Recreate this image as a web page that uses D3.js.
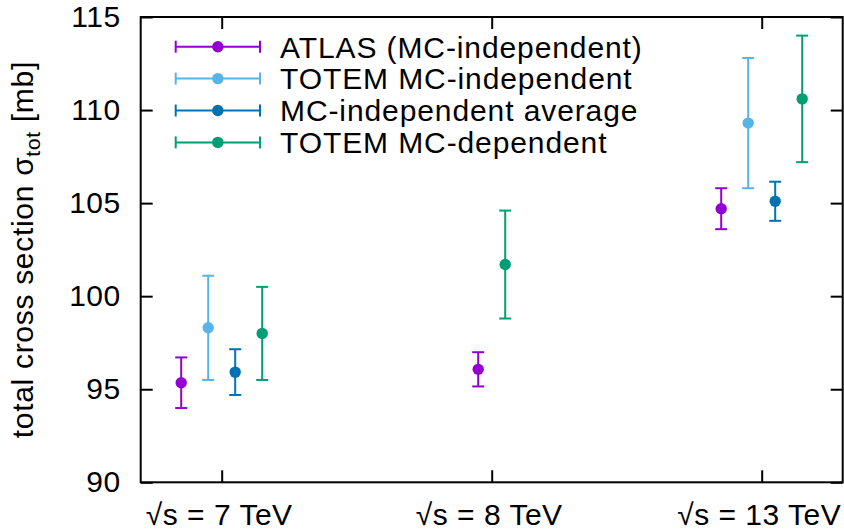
<!DOCTYPE html>
<html lang="en">
<head>
<meta charset="UTF-8">
<title>Total cross section</title>
<script src="https://d3js.org/d3.v7.min.js"></script>
<style>
    body { margin: 0; background: #fff; }
    text { font-family: "Liberation Sans", Arial, Helvetica, sans-serif; }
</style>
</head>
<body>
<div id="chart"></div>
<script>

// x categories (collision energy)
const energies = ["√s = 7 TeV", "√s = 8 TeV", "√s = 13 TeV"];

// y axis ticks
const yTicks = [90, 95, 100, 105, 110, 115];

// series, null where a measurement is absent
const seriesNames = ["ATLAS (MC-independent)", "TOTEM MC-independent", "MC-independent average", "TOTEM MC-dependent"];
const seriesColors = ["#9400d3", "#56b4e9", "#0072b2", "#009e73"];

const atlasVal = [95.35, 96.07, 104.7];
const atlasErr = [1.36, 0.92, 1.1];
const totemIndepVal = [98.3, null, 109.3];
const totemIndepErr = [2.8, null, 3.5];
const averageVal = [95.92, null, 105.1];
const averageErr = [1.23, null, 1.05];
const totemDepVal = [98.0, 101.7, 110.6];
const totemDepErr = [2.5, 2.9, 3.4];

const seriesVals = [atlasVal, totemIndepVal, averageVal, totemDepVal];
const seriesErrs = [atlasErr, totemIndepErr, averageErr, totemDepErr];

const width = 844;
const height = 531;
const margin = {left: 140.7, right: 1.3, top: 17, bottom: 48.7};
const tickLen = 12;
const fontSize = 30;

const svg = d3.select("#chart")
    .append("svg")
    .attr("width", width)
    .attr("height", height);

const x = d3.scaleLinear([0.7, 3.3], [margin.left, width - margin.right]);
const y = d3.scaleLinear([90, 115], [height - margin.bottom, margin.top]);

function styleAxis(g) {
    g.select(".domain").remove();
    g.selectAll(".tick line").attr("stroke", "#000").attr("stroke-width", 2);
    g.selectAll(".tick text")
        .attr("fill", "#000")
        .style("font-size", fontSize + "px")
        .style("letter-spacing", "0.5px");
}

// left / bottom with labels, top / right mirrored ticks only
svg.append("g")
    .attr("transform", `translate(${margin.left},0)`)
    .call(d3.axisLeft(y).tickValues(yTicks).tickSize(-tickLen).tickPadding(20))
    .call(styleAxis);

svg.append("g")
    .attr("transform", `translate(${width - margin.right},0)`)
    .call(d3.axisRight(y).tickValues(yTicks).tickSize(-tickLen).tickFormat(""))
    .call(styleAxis);

svg.append("g")
    .attr("transform", `translate(0,${height - margin.bottom})`)
    .call(d3.axisBottom(x).tickValues([1, 2, 3]).tickSize(-tickLen).tickPadding(21)
        .tickFormat(d => energies[d - 1]))
    .call(styleAxis)
    .call(g => g.selectAll(".tick text").attr("x", -3));

svg.append("g")
    .attr("transform", `translate(0,${margin.top})`)
    .call(d3.axisTop(x).tickValues([1, 2, 3]).tickSize(-tickLen).tickFormat(""))
    .call(styleAxis);

// frame
svg.append("rect")
    .attr("x", margin.left)
    .attr("y", margin.top)
    .attr("width", width - margin.left - margin.right)
    .attr("height", height - margin.top - margin.bottom)
    .attr("fill", "none")
    .attr("stroke", "#000")
    .attr("stroke-width", 2);

// y label
const ylab = svg.append("text")
    .attr("transform", `translate(33,${(margin.top + height - margin.bottom) / 2}) rotate(-90)`)
    .attr("text-anchor", "middle")
    .style("font-size", fontSize + "px")
    .style("letter-spacing", "0.7px")
    .attr("fill", "#000");
ylab.append("tspan").text("total cross section σ");
ylab.append("tspan").attr("dy", 7).style("font-size", "21px").text("tot");
ylab.append("tspan").attr("dy", -7).text(" [mb]");

// points: within a category the present series are spread evenly around the tick
const step = 0.1;
const points = [];
energies.forEach((e, ci) => {
    const present = seriesVals.map((v, si) => si).filter(si => seriesVals[si][ci] != null);
    present.forEach((si, k) => {
        points.push({
            pos: ci + 1 + (k - (present.length - 1) / 2) * step,
            val: seriesVals[si][ci],
            err: seriesErrs[si][ci],
            color: seriesColors[si]
        });
    });
});

const capHalf = 6;
const pg = svg.append("g");
points.forEach(p => {
    const g = pg.append("g").attr("stroke", p.color).attr("stroke-width", 2);
    const px = x(p.pos);
    g.append("line")
        .attr("x1", px).attr("x2", px)
        .attr("y1", y(p.val - p.err)).attr("y2", y(p.val + p.err));
    [p.val - p.err, p.val + p.err].forEach(v => {
        g.append("line")
            .attr("x1", px - capHalf).attr("x2", px + capHalf)
            .attr("y1", y(v)).attr("y2", y(v));
    });
    g.append("circle")
        .attr("cx", px).attr("cy", y(p.val)).attr("r", 5.7)
        .attr("fill", p.color).attr("stroke", "none");
});

// legend
const legX0 = 175.7, legX1 = 260, legTextX = 280, legY0 = 46.7, legDy = 31.9;
seriesNames.forEach((name, i) => {
    const ly = legY0 + i * legDy;
    const g = svg.append("g").attr("stroke", seriesColors[i]).attr("stroke-width", 2);
    g.append("line").attr("x1", legX0).attr("x2", legX1).attr("y1", ly).attr("y2", ly);
    [legX0, legX1].forEach(cx => {
        g.append("line").attr("x1", cx).attr("x2", cx).attr("y1", ly - capHalf).attr("y2", ly + capHalf);
    });
    g.append("circle").attr("cx", (legX0 + legX1) / 2).attr("cy", ly).attr("r", 5.7)
        .attr("fill", seriesColors[i]).attr("stroke", "none");
    svg.append("text")
        .attr("x", legTextX).attr("y", ly).attr("dy", "0.36em")
        .style("font-size", fontSize + "px")
        .style("letter-spacing", "0.9px")
        .attr("fill", "#000")
        .text(name);
});

</script>
</body>
</html>
